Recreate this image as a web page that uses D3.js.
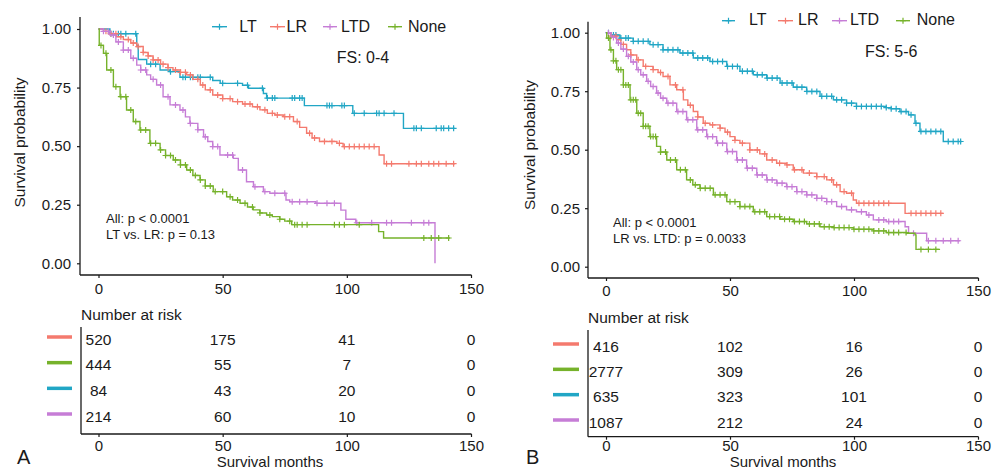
<!DOCTYPE html>
<html>
<head>
<meta charset="utf-8">
<script src="https://cdn.jsdelivr.net/npm/d3@7"></script>
<style>
  body { margin: 0; background: #fff; }
  text { font-family: "Liberation Sans", Arial, sans-serif; }
</style>
</head>
<body>
<svg id="chart" width="996" height="470"></svg>
<script>
// strata, in legend order and in risk-table order
const strata = ["LT", "LR", "LTD", "None"];
const tableOrder = ["LR", "None", "LT", "LTD"];
const colors = {LT: "#21A6C5", LR: "#F47A6E", LTD: "#C67DD6", None: "#76B22B"};
const xTicks = [0, 50, 100, 150];
const yTicks = [0, 0.25, 0.5, 0.75, 1];

// ---- panel A (FS: 0-4): [month, survival] at each step ----
const survA_LT = [[0,1],[4.6,0.98],[15.4,0.93],[16,0.87],[19.4,0.85],[24.8,0.825],[28.8,0.818],[32.8,0.794],[46,0.78],[49,0.768],[58,0.76],[60.4,0.747],[66.4,0.725],[67.7,0.705],[82.9,0.673],[102.4,0.64],[122.8,0.576],[143.5,0.576]];
const survA_LR = [[0,1],[2,0.99],[4,0.98],[7.3,0.967],[10,0.955],[13,0.94],[15.4,0.925],[18,0.9],[20,0.885],[22,0.868],[25,0.85],[28,0.835],[30,0.825],[33,0.815],[35.5,0.804],[38,0.785],[41,0.761],[43,0.74],[46,0.718],[50,0.703],[54,0.69],[58,0.68],[62,0.668],[65,0.655],[68,0.64],[71,0.633],[74.4,0.626],[78.5,0.605],[81,0.58],[83.8,0.555],[86,0.535],[89,0.52],[96,0.512],[98.5,0.498],[113,0.462],[115,0.425],[143.5,0.425]];
const survA_LTD = [[0,1],[2,0.99],[4.6,0.974],[7,0.945],[10,0.91],[13,0.875],[15.4,0.846],[17,0.825],[19.4,0.804],[21,0.785],[23.4,0.761],[26,0.711],[28.8,0.676],[32.8,0.654],[35,0.625],[36.8,0.597],[40,0.57],[42.3,0.54],[44,0.52],[46,0.498],[48.9,0.462],[54.3,0.448],[56.3,0.398],[59.6,0.348],[62.4,0.327],[66.4,0.306],[69,0.299],[75.5,0.27],[77,0.263],[87.5,0.256],[97.6,0.227],[99.6,0.188],[103.6,0.173],[135.5,0]];
const survA_None = [[0,1],[0.3,0.93],[2,0.896],[3.3,0.825],[6,0.754],[8.7,0.711],[11.3,0.654],[14,0.605],[16.7,0.569],[20.7,0.512],[24.8,0.484],[27,0.46],[30.1,0.441],[33,0.42],[35.5,0.398],[38,0.375],[40.9,0.356],[43,0.33],[46.2,0.306],[51.6,0.284],[54,0.27],[57,0.256],[60,0.24],[62.3,0.228],[65,0.215],[67.7,0.206],[70,0.199],[73,0.188],[75,0.18],[77.8,0.165],[112.8,0.135],[114.8,0.108],[141.5,0.108]];

const censorA_LT = [5,6,8,9,11,15,21,23,29,34,35,37,38,40,41,45,50,56,60,66,68,70,71,78,79,81,82,92,93,94,98,99,103,107,112,113,115,119,127,128,130,136,138,139,141,143];
const censorA_LR = [3,5,7,9,12,14,16,18,20,22,24,26,28,31,33,35,37,40,42,45,48,50,53,56,59,61,64,67,70,72,75,77,80,85,87,91,94,97,99,101,103,105,107,109,111,116,118,125,128,130,133,135,137,140,143];
const censorA_LTD = [2,4,6,8,10,12,14,17,19,22,25,28,31,34,37,40,43,46,48,52,54,58,63,67,71,75,78,81,84,88,92,95,104,110,116,118,126,131,133];
const censorA_None = [1,3,5,7,9,11,13,15,17,19,21,23,25,27,29,31,33,35,37,39,41,43,45,47,50,53,56,59,62,65,69,73,77,79,80,82,84,95,97,99,105,131,134,137,141];

const riskA_LR = [520, 175, 41, 0];
const riskA_None = [444, 55, 7, 0];
const riskA_LT = [84, 43, 20, 0];
const riskA_LTD = [214, 60, 10, 0];
const pTextA = ["All: p < 0.0001", "LT vs. LR: p = 0.13"];

// ---- panel B (FS: 5-6) ----
const survB_LT = [[0,1],[2,0.99],[5.6,0.977],[11,0.963],[17.7,0.949],[23,0.927],[29.8,0.913],[35.2,0.892],[41.9,0.877],[48.7,0.856],[54,0.835],[59.4,0.82],[64.8,0.806],[70.2,0.785],[75.5,0.767],[80.9,0.749],[86.3,0.728],[91.7,0.713],[97,0.699],[101,0.685],[113,0.68],[115,0.675],[118.5,0.663],[122,0.649],[124.6,0.613],[126.6,0.578],[136,0.535],[143.4,0.535]];
const survB_LR = [[0,1],[2,0.985],[4.3,0.97],[6,0.95],[8.3,0.927],[10,0.905],[12.4,0.884],[15,0.856],[19,0.842],[21,0.83],[23,0.813],[25.8,0.777],[28.5,0.756],[31.2,0.713],[33,0.69],[35.2,0.663],[37,0.64],[39.2,0.613],[41.9,0.606],[46,0.592],[48,0.575],[50,0.556],[52,0.54],[54,0.528],[58,0.499],[62,0.482],[64.8,0.456],[68.8,0.442],[72.8,0.435],[75.5,0.414],[79.6,0.4],[85,0.385],[89,0.371],[91.7,0.35],[94.4,0.321],[97,0.314],[99.7,0.285],[101,0.271],[120.6,0.228],[136,0.228]];
const survB_LTD = [[0,1],[2,0.98],[4.3,0.956],[6,0.93],[8.3,0.899],[10,0.875],[12.4,0.842],[14,0.82],[16.4,0.792],[18,0.77],[20.4,0.742],[22,0.72],[24.5,0.699],[28.5,0.663],[32.5,0.628],[36.6,0.585],[40.6,0.556],[44.6,0.528],[48.7,0.492],[52.7,0.456],[56.7,0.421],[60.8,0.392],[64.8,0.371],[68.8,0.357],[72.8,0.342],[76.9,0.321],[80.9,0.307],[85,0.292],[89,0.278],[93,0.257],[97,0.243],[101,0.235],[105,0.221],[107.8,0.2],[113,0.193],[120.6,0.171],[122,0.143],[129.3,0.111],[142.7,0.111]];
const survB_None = [[0,1],[0.3,0.977],[1.6,0.927],[3,0.88],[4.3,0.842],[7,0.777],[9.7,0.713],[12.4,0.656],[15,0.6],[17.7,0.556],[20.4,0.514],[22,0.49],[24.5,0.456],[28.5,0.414],[32.5,0.371],[35,0.35],[37.9,0.335],[43.3,0.307],[48.7,0.278],[54,0.257],[59.4,0.235],[64.8,0.214],[70.2,0.203],[75.5,0.193],[80.9,0.183],[86.3,0.171],[91.7,0.167],[99.7,0.16],[107.8,0.153],[113,0.146],[121.2,0.143],[124.6,0.136],[125,0.074],[134.7,0.074]];

const censorB_LT = [1,3,4,6,8,9,11,13,15,17,19,21,23,25,27,29,31,33,35,37,39,41,43,45,47,49,51,53,55,57,59,61,63,65,67,69,71,73,75,77,79,81,83,85,87,89,91,93,95,97,99,101,103,105,107,109,111,113,115,117,119,121,123,125,127,129,131,133,135,138,140,142,143];
const censorB_LR = [2,4,7,10,13,16,19,22,25,28,31,34,37,40,43,46,49,52,55,58,61,64,67,70,73,76,79,82,85,88,91,93,96,99,102,104,106,108,110,112,114,123,125,127,129,131,133,135];
const censorB_LTD = [1,3,5,7,9,11,13,15,17,19,21,23,25,27,29,31,33,35,37,39,41,43,45,47,49,51,53,55,57,59,61,63,65,67,69,71,73,75,77,79,81,83,85,87,89,91,95,99,103,106,110,112,114,116,118,124,130,133,136,139,142];
const censorB_None = [1,2,3,4,5,6,7,8,9,10,11,12,13,14,15,16,17,18,19,20,22,24,26,28,30,32,34,36,38,40,42,44,46,48,50,52,54,56,58,60,62,64,66,68,70,72,74,76,78,80,82,84,86,88,90,92,94,96,98,100,102,104,106,108,110,112,114,116,118,121,127,130,133];

const riskB_LR = [416, 102, 16, 0];
const riskB_None = [2777, 309, 26, 0];
const riskB_LT = [635, 323, 101, 0];
const riskB_LTD = [1087, 212, 24, 0];
const pTextB = ["All: p < 0.0001", "LR vs. LTD: p = 0.0033"];

const svg = d3.select("#chart");
const FONT = "'Liberation Sans', Arial, sans-serif";
const INK = "#1a1a1a";

const panels = [
  {
    surv: {LT: survA_LT, LR: survA_LR, LTD: survA_LTD, None: survA_None},
    censor: {LT: censorA_LT, LR: censorA_LR, LTD: censorA_LTD, None: censorA_None},
    risk: {LR: riskA_LR, None: riskA_None, LT: riskA_LT, LTD: riskA_LTD},
    pText: pTextA, fs: "FS: 0-4", letter: "A",
    x0: 98.5, x150: 471, y0: 263.3, y1: 29, axL: 80, axTop: 17, axB: 275, xPad: 5, yPad: 6,
    ylab: [25, 142.5],
    keys: [[212, 227], [270, 285], [323, 337], [388, 402]], keyY: 26.7,
    keyText: [239.3, 286.5, 341, 408], keyBase: 31.7,
    fsPos: [336.7, 63.3], pPos: [106, 223.3, 239],
    title: [81, 320], tAxL: 81, tTop: 327, tAxB: 434, rows: [339, 416], dash: [47, 72], tPad: 3.5,
    xlab: [270, 467], letterPos: [17, 464]
  },
  {
    surv: {LT: survB_LT, LR: survB_LR, LTD: survB_LTD, None: survB_None},
    censor: {LT: censorB_LT, LR: censorB_LR, LTD: censorB_LTD, None: censorB_None},
    risk: {LR: riskB_LR, None: riskB_None, LT: riskB_LT, LTD: riskB_LTD},
    pText: pTextB, fs: "FS: 5-6", letter: "B",
    x0: 606, x150: 978, y0: 266.7, y1: 32.7, axL: 588, axTop: 21.7, axB: 278, xPad: 4, yPad: 5,
    ylab: [535, 145],
    keys: [[722, 735], [778, 793], [832, 847], [896, 910]], keyY: 20.7,
    keyText: [749, 798, 850, 916.7], keyBase: 25,
    fsPos: [865, 57.3], pPos: [613, 226.7, 243],
    title: [588, 323], tAxL: 588, tTop: 330, tAxB: 436.7, rows: [346, 422], dash: [553, 579], tPad: 1,
    xlab: [783, 467], letterPos: [526, 464]
  }
];

function plus(cx, cy, a) {
  return `M${cx - a},${cy}h${2 * a}M${cx},${cy - a}v${2 * a}`;
}

function styleAxis(sel, size) {
  sel.select(".domain").remove();
  sel.selectAll("line").attr("stroke", INK).attr("stroke-width", 1.2);
  sel.selectAll("text").attr("fill", INK).attr("font-family", FONT).attr("font-size", size);
}

panels.forEach(p => {
  const g = svg.append("g");
  const x = d3.scaleLinear([0, 150], [p.x0, p.x150]);
  const y = d3.scaleLinear([0, 1], [p.y0, p.y1]);

  // axes of the survival plot
  g.append("line").attr("x1", p.axL).attr("x2", p.axL).attr("y1", p.axTop).attr("y2", p.axB)
    .attr("stroke", INK).attr("stroke-width", 1.3);
  g.append("line").attr("x1", p.axL).attr("x2", p.x150 + 0.5).attr("y1", p.axB).attr("y2", p.axB)
    .attr("stroke", INK).attr("stroke-width", 1.3);
  g.append("g").attr("transform", `translate(0,${p.axB})`)
    .call(d3.axisBottom(x).tickValues(xTicks).tickSize(3).tickPadding(p.xPad).tickFormat(d3.format("d")))
    .call(s => styleAxis(s, 15));
  g.append("g").attr("transform", `translate(${p.axL},0)`)
    .call(d3.axisLeft(y).tickValues(yTicks).tickSize(3).tickPadding(p.yPad).tickFormat(d3.format(".2f")))
    .call(s => styleAxis(s, 15));

  g.append("text").attr("transform", `translate(${p.ylab[0]},${p.ylab[1]}) rotate(-90)`)
    .attr("text-anchor", "middle").attr("font-size", 15.5).attr("fill", INK)
    .text("Survival probability");

  // curves and censor marks
  const line = d3.line().x(d => x(d[0])).y(d => y(d[1])).curve(d3.curveStepAfter);
  const bis = d3.bisector(d => d[0]).right;
  strata.forEach(k => {
    const data = p.surv[k];
    g.append("path").attr("d", line(data)).attr("fill", "none")
      .attr("stroke", colors[k]).attr("stroke-width", 1.4);
    const marks = p.censor[k].map(t => {
      const d = data[Math.max(0, bis(data, t) - 1)];
      return plus(x(t), y(d[1]), 3);
    }).join("");
    g.append("path").attr("d", marks).attr("fill", "none")
      .attr("stroke", colors[k]).attr("stroke-width", 1.2);
  });

  // legend
  strata.forEach((k, i) => {
    const [a, b] = p.keys[i];
    g.append("line").attr("x1", a).attr("x2", b).attr("y1", p.keyY).attr("y2", p.keyY)
      .attr("stroke", colors[k]).attr("stroke-width", 1.4);
    g.append("path").attr("d", plus((a + b) / 2, p.keyY, 3)).attr("stroke", colors[k]).attr("stroke-width", 1.2);
    g.append("text").attr("x", p.keyText[i]).attr("y", p.keyBase)
      .attr("font-size", 16).attr("fill", INK).text(k);
  });

  g.append("text").attr("x", p.fsPos[0]).attr("y", p.fsPos[1])
    .attr("font-size", 16).attr("fill", INK).text(p.fs);
  p.pText.forEach((t, i) => {
    g.append("text").attr("x", p.pPos[0]).attr("y", p.pPos[1 + i])
      .attr("font-size", 13).attr("fill", INK).text(t);
  });

  // number-at-risk table
  const rowY = d3.scalePoint(tableOrder, p.rows);
  g.append("text").attr("x", p.title[0]).attr("y", p.title[1])
    .attr("font-size", 15.5).attr("fill", INK).text("Number at risk");
  g.append("line").attr("x1", p.tAxL).attr("x2", p.tAxL).attr("y1", p.tTop).attr("y2", p.tAxB)
    .attr("stroke", INK).attr("stroke-width", 1.3);
  g.append("line").attr("x1", p.tAxL).attr("x2", p.x150 + 0.5).attr("y1", p.tAxB).attr("y2", p.tAxB)
    .attr("stroke", INK).attr("stroke-width", 1.3);
  g.append("g").attr("transform", `translate(0,${p.tAxB})`)
    .call(d3.axisBottom(x).tickValues(xTicks).tickSize(3).tickPadding(p.tPad).tickFormat(d3.format("d")))
    .call(s => styleAxis(s, 15));

  tableOrder.forEach(k => {
    const cy = rowY(k);
    g.append("line").attr("x1", p.dash[0]).attr("x2", p.dash[1]).attr("y1", cy - 2).attr("y2", cy - 2)
      .attr("stroke", colors[k]).attr("stroke-width", 3.5);
    g.selectAll(null).data(p.risk[k]).join("text")
      .attr("x", (d, i) => x(xTicks[i])).attr("y", cy).attr("dy", "0.36em")
      .attr("text-anchor", "middle").attr("font-size", 15.5).attr("fill", INK)
      .text(d => d);
  });

  g.append("text").attr("x", p.xlab[0]).attr("y", p.xlab[1]).attr("text-anchor", "middle")
    .attr("font-size", 15).attr("fill", INK).text("Survival months");
  g.append("text").attr("x", p.letterPos[0]).attr("y", p.letterPos[1])
    .attr("font-size", 20).attr("fill", INK).text(p.letter);
});
</script>
</body>
</html>
